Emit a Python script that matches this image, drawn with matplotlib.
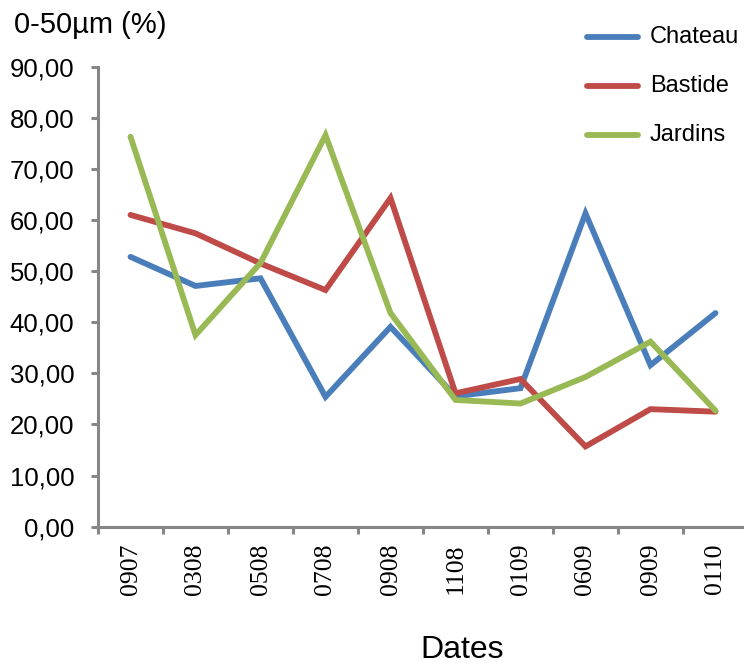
import matplotlib
matplotlib.use("Agg")
import matplotlib.pyplot as plt
import numpy as np

dates = ["0907", "0308", "0508", "0708", "0908", "1108", "0109", "0609", "0909", "0110"]
chateau = [52.8, 47.1, 48.6, 25.4, 39.1, 25.5, 27.1, 61.3, 31.6, 41.8]
bastide = [61.0, 57.4, 51.5, 46.3, 64.3, 26.1, 28.9, 15.7, 23.0, 22.5]
jardins = [76.3, 37.5, 51.6, 76.6, 41.8, 24.8, 24.1, 29.3, 36.2, 22.7]
series_names = ["Chateau", "Bastide", "Jardins"]
colors = ["#4A7EBB", "#BE4B48", "#98B954"]
yticks = np.arange(0, 91, 10)

sans = "Liberation Sans"
serif = "Liberation Serif"

W, H = 744, 664
fig = plt.figure(figsize=(W / 100, H / 100), dpi=100)
ax = fig.add_axes([98 / W, 137.3 / H, 650 / W, 460 / H])

x = np.arange(len(dates))
for vals, c, n in zip([chateau, bastide, jardins], colors, series_names):
    ax.plot(x, vals, color=c, lw=4.2, solid_joinstyle="miter", solid_capstyle="round", label=n)

ax.set_xlim(-0.5, len(dates) - 0.5)
ax.set_ylim(0, 90)
for s in ["top", "right"]:
    ax.spines[s].set_visible(False)
for s in ["left", "bottom"]:
    ax.spines[s].set_color("#868686")
    ax.spines[s].set_linewidth(2.2)

ax.set_yticks(yticks)
ax.set_yticklabels([f"{v:.2f}".replace(".", ",") for v in yticks], fontfamily=sans, fontsize=18.5)
ax.tick_params(axis="y", length=5, width=2.2, color="#868686", pad=12)

ax.set_xticks(x)
ax.set_xticklabels(dates, rotation=90, fontfamily=serif, fontsize=18.5)
ax.set_xticks(np.arange(-0.5, len(dates)), minor=True)
ax.tick_params(axis="x", which="major", length=0, pad=12)
ax.tick_params(axis="x", which="minor", length=5, width=2.2, color="#868686")

fig.text(14 / W, 1 - 33 / H, "0-50µm (%)", fontfamily=sans, fontsize=21, va="baseline", ha="left")
fig.text(462 / W, 6 / H, "Dates", fontfamily=sans, fontsize=23, va="baseline", ha="center")

# legend
for i, (c, n) in enumerate(zip(colors, series_names)):
    yy = 1 - (37 + i * 49) / H
    fig.add_artist(plt.Line2D([587 / W, 638 / W], [yy, yy], color=c, lw=4.2, solid_capstyle="round"))
    fig.text(650 / W, yy, n, fontfamily=sans, fontsize=17, va="center", ha="left")

fig.savefig("out.png", dpi=100)
